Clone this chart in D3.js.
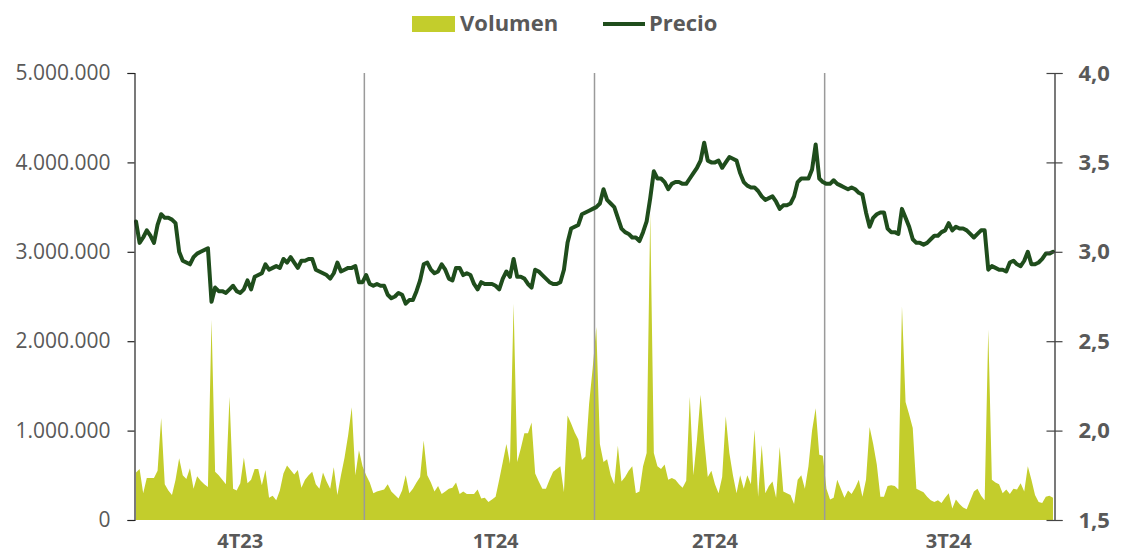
<!DOCTYPE html>
<html>
<head>
<meta charset="utf-8">
<script src="https://cdn.jsdelivr.net/npm/d3@7"></script>
<style>
  html, body { margin: 0; padding: 0; background: #ffffff; }
  svg { display: block; }
  text { font-family: "Open Sans", "Noto Sans", sans-serif; }
</style>
</head>
<body>
<svg id="chart" width="1121" height="554"></svg>
<script>
// ---------------- DATA ----------------
const quarters = ["4T23", "1T24", "2T24", "3T24"];
// trading day (index) where each quarter label sits
const labelDays = [29, 100, 161, 226];

// Daily volume (shares), one array per quarter
const volume4T23 = [0.53,0.57,0.30,0.47,0.47,0.47,0.55,1.14,0.40,0.33,
  0.28,0.45,0.69,0.50,0.46,0.58,0.35,0.49,0.44,0.40,
  0.37,2.24,0.54,0.50,0.45,0.40,1.38,0.35,0.33,0.41,
  0.70,0.41,0.45,0.57,0.57,0.39,0.56,0.25,0.27,0.22,
  0.33,0.52,0.61,0.56,0.51,0.56,0.36,0.45,0.50,0.54,
  0.40,0.35,0.53,0.43,0.35,0.59,0.28,0.50,0.70,0.95,
  1.26,0.50,0.78,0.60].map(v => v * 1e6);
const volume1T24 = [0.50,0.42,0.30,0.32,0.33,0.34,0.40,0.32,0.28,0.24,
  0.33,0.50,0.30,0.35,0.42,0.48,0.89,0.50,0.42,0.32,
  0.38,0.29,0.32,0.35,0.36,0.42,0.29,0.32,0.29,0.29,
  0.29,0.34,0.24,0.25,0.20,0.23,0.26,0.45,0.65,0.85,
  0.63,2.42,0.65,0.80,0.97,0.97,1.09,0.52,0.43,0.35,
  0.35,0.45,0.54,0.57,0.60,0.31,1.17,1.08,0.98,0.90,
  0.67,0.71,1.30,1.70].map(v => v * 1e6);
const volume2T24 = [2.16,0.85,0.65,0.68,0.50,0.40,0.83,0.43,0.48,0.55,
  0.60,0.30,0.32,0.60,0.75,3.43,0.75,0.60,0.57,0.62,
  0.45,0.47,0.45,0.40,0.36,0.44,1.38,0.50,0.90,1.40,
  0.90,0.48,0.55,0.40,0.30,0.48,1.16,0.75,0.50,0.30,
  0.50,0.35,0.50,0.40,1.01,0.26,0.84,0.30,0.38,0.43,
  0.25,0.82,0.32,0.30,0.28,0.18,0.45,0.50,0.35,0.60,
  1.00,1.25,0.73,0.72].map(v => v * 1e6);
const volume3T24 = [0.35,0.23,0.25,0.45,0.35,0.25,0.33,0.29,0.36,0.45,
  0.26,0.45,1.04,0.85,0.62,0.26,0.26,0.38,0.39,0.38,
  0.34,2.39,1.32,1.18,1.03,0.35,0.33,0.31,0.26,0.22,
  0.20,0.22,0.19,0.25,0.30,0.13,0.23,0.18,0.14,0.12,
  0.22,0.32,0.35,0.27,0.22,2.13,0.45,0.42,0.40,0.30,
  0.34,0.29,0.35,0.34,0.41,0.32,0.60,0.45,0.28,0.20,
  0.19,0.26,0.27,0.25].map(v => v * 1e6);

// Daily closing price (€), one array per quarter
const price4T23 = [3.17,3.05,3.08,3.12,3.09,3.05,3.15,3.21,3.19,3.19,
  3.18,3.16,3.00,2.95,2.94,2.93,2.97,2.99,3.00,3.01,
  3.02,2.72,2.80,2.78,2.78,2.77,2.79,2.81,2.78,2.77,
  2.79,2.84,2.79,2.86,2.87,2.88,2.93,2.90,2.91,2.92,
  2.91,2.96,2.94,2.97,2.94,2.91,2.95,2.95,2.96,2.96,
  2.90,2.89,2.88,2.87,2.85,2.88,2.94,2.89,2.90,2.91,
  2.91,2.92,2.83,2.83];
const price1T24 = [2.87,2.82,2.81,2.82,2.81,2.81,2.76,2.74,2.75,2.77,
  2.76,2.71,2.73,2.73,2.78,2.84,2.93,2.94,2.90,2.88,
  2.89,2.93,2.90,2.85,2.84,2.91,2.91,2.87,2.88,2.87,
  2.82,2.79,2.83,2.82,2.82,2.82,2.81,2.79,2.85,2.89,
  2.86,2.96,2.86,2.86,2.85,2.82,2.80,2.90,2.89,2.87,
  2.85,2.83,2.82,2.82,2.83,2.90,3.05,3.13,3.14,3.15,
  3.21,3.22,3.23,3.24];
const price2T24 = [3.25,3.27,3.35,3.29,3.27,3.25,3.19,3.13,3.11,3.10,
  3.08,3.08,3.06,3.11,3.17,3.30,3.45,3.41,3.41,3.39,
  3.35,3.38,3.39,3.39,3.38,3.38,3.41,3.44,3.47,3.51,
  3.61,3.51,3.50,3.50,3.51,3.47,3.50,3.53,3.52,3.51,
  3.44,3.39,3.37,3.36,3.36,3.34,3.31,3.29,3.30,3.31,
  3.28,3.24,3.26,3.26,3.27,3.31,3.39,3.41,3.41,3.41,
  3.46,3.60,3.41,3.39];
const price3T24 = [3.38,3.38,3.40,3.38,3.37,3.36,3.35,3.36,3.35,3.33,
  3.32,3.22,3.14,3.19,3.21,3.22,3.22,3.13,3.11,3.11,
  3.10,3.24,3.19,3.14,3.07,3.05,3.05,3.04,3.05,3.07,
  3.09,3.09,3.11,3.12,3.16,3.12,3.14,3.13,3.13,3.12,
  3.10,3.08,3.10,3.12,3.12,2.90,2.92,2.91,2.90,2.90,
  2.89,2.94,2.95,2.93,2.92,2.95,3.00,2.93,2.93,2.94,
  2.96,2.99,2.99,3.00];

const volumeTicks = [0, 1e6, 2e6, 3e6, 4e6, 5e6];
const priceTicks = [1.5, 2.0, 2.5, 3.0, 3.5, 4.0];
const seriesNames = ["Volumen", "Precio"];

// ---------------- BUILD ----------------
const volume = [].concat(volume4T23, volume1T24, volume2T24, volume3T24);
const price = [].concat(price4T23, price1T24, price2T24, price3T24);
const perQuarter = volume4T23.length;
const quarterStarts = quarters.map((q, i) => i * perQuarter);

const COL_VOL = "#c3cd2c";
const COL_PRICE = "#1f4d1c";
const COL_TEXT = "#595959";

const svg = d3.select("#chart");
const plotLeft = 136, plotRight = 1053, plotTop = 73, plotBottom = 520;

const x = d3.scaleLinear().domain([0, volume.length - 1]).range([plotLeft, plotRight]);
const yV = d3.scaleLinear().domain([0, 5e6]).range([plotBottom, plotTop]);
const yP = d3.scaleLinear().domain([1.5, 4.0]).range([plotBottom, plotTop]);

const locale = d3.formatLocale({decimal: ",", thousands: ".", grouping: [3], currency: ["", "€"]});
const fmtVol = locale.format(",.0f");
const fmtPrice = locale.format(".1f");

// volume area
svg.append("path")
  .datum(volume)
  .attr("fill", COL_VOL)
  .attr("d", d3.area()
    .x((d, i) => x(i))
    .y0(yV(0))
    .y1(d => yV(d)));

// quarter separators
svg.append("g").selectAll("line")
  .data(quarterStarts.slice(1))
  .join("line")
  .attr("x1", d => x(d - 0.5)).attr("x2", d => x(d - 0.5))
  .attr("y1", yV(5e6)).attr("y2", yV(0))
  .attr("stroke", "#9a9a9a").attr("stroke-width", 1.5);

// price line
svg.append("path")
  .datum(price)
  .attr("fill", "none")
  .attr("stroke", COL_PRICE)
  .attr("stroke-width", 4)
  .attr("stroke-linejoin", "round")
  .attr("stroke-linecap", "round")
  .attr("d", d3.line().x((d, i) => x(i)).y(d => yP(d)));

// left axis
const gL = svg.append("g").attr("transform", "translate(134.5,0)")
  .call(d3.axisLeft(yV).tickValues(volumeTicks).tickFormat(fmtVol).tickSize(7).tickPadding(17));
gL.select(".domain").attr("stroke", "#222").attr("stroke-width", 1.2);
gL.selectAll(".tick line").attr("stroke", "#222").attr("stroke-width", 1.2);
gL.selectAll("text").attr("font-size", 21).attr("fill", COL_TEXT)
  .attr("font-family", "'Open Sans', sans-serif");

// right axis
const gR = svg.append("g").attr("transform", "translate(1054.5,0)")
  .call(d3.axisRight(yP).tickValues(priceTicks).tickFormat(fmtPrice).tickSize(8).tickPadding(16));
gR.select(".domain").attr("stroke", "#222").attr("stroke-width", 1.2);
gR.selectAll(".tick line").attr("x1", -8).attr("x2", 8).attr("stroke", "#444").attr("stroke-width", 1.2);
gR.selectAll("text").attr("font-size", 22).attr("font-weight", "bold").attr("fill", COL_TEXT)
  .attr("font-family", "'Open Sans', sans-serif");

// quarter labels
svg.append("g").selectAll("text")
  .data(quarters)
  .join("text")
  .attr("x", (d, i) => x(labelDays[i]))
  .attr("y", 548)
  .attr("text-anchor", "middle")
  .attr("font-size", 20)
  .attr("font-weight", "bold")
  .attr("fill", COL_TEXT)
  .text(d => d);

// legend
const lg = svg.append("g");
lg.append("rect").attr("x", 412).attr("y", 16).attr("width", 43).attr("height", 16).attr("fill", COL_VOL);
lg.append("text").attr("x", 460).attr("y", 31).attr("font-size", 22).attr("font-weight", "bold")
  .attr("fill", COL_TEXT).text(seriesNames[0]);
lg.append("line").attr("x1", 603).attr("x2", 645).attr("y1", 24).attr("y2", 24)
  .attr("stroke", COL_PRICE).attr("stroke-width", 4);
lg.append("text").attr("x", 649).attr("y", 31).attr("font-size", 22).attr("font-weight", "bold")
  .attr("fill", COL_TEXT).text(seriesNames[1]);
</script>
</body>
</html>
